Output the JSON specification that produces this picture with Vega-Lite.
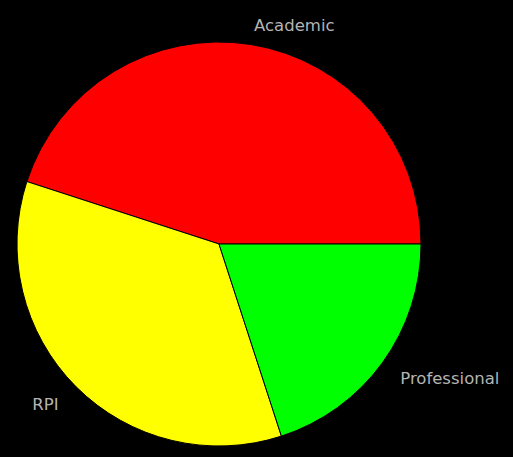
{
  "$schema": "https://vega.github.io/schema/vega-lite/v6.json",
  "width": 404,
  "height": 404,
  "padding": {"left": 17, "top": 42, "right": 92, "bottom": 11},
  "autosize": {"type": "none"},
  "background": "black",
  "config": {"view": {"stroke": null}},
  "data": {"values": [
    {"label": "Academic", "value": 45},
    {"label": "RPI", "value": 35},
    {"label": "Professional", "value": 20}
  ]},
  "encoding": {
    "theta": {"field": "value", "type": "quantitative", "stack": true, "scale": {"range": [1.5708, 7.854]}},
    "order": {"field": "value", "sort": "ascending"}
  },
  "layer": [
    {
      "mark": {"type": "arc", "outerRadius": 202, "stroke": "black", "strokeWidth": 1},
      "encoding": {
        "color": {"field": "label", "type": "nominal", "legend": null,
          "scale": {"domain": ["Academic", "RPI", "Professional"], "range": ["#ff0000", "#ffff00", "#00ff00"]}}
      }
    },
    {
      "mark": {"type": "text", "radius": 224, "dy": 3, "align": "left", "baseline": "middle", "font": "DejaVu Sans", "fontSize": 16.5, "fill": "#b4b4b4"},
      "encoding": {
        "text": {"condition": {"test": "datum.label === 'RPI'", "value": ""}, "field": "label", "type": "nominal"}
      }
    },
    {
      "mark": {"type": "text", "radius": 224, "dy": 3, "dx": -2, "align": "right", "baseline": "middle", "font": "DejaVu Sans", "fontSize": 16.5, "fill": "#b4b4b4"},
      "encoding": {
        "text": {"condition": {"test": "datum.label !== 'RPI'", "value": ""}, "field": "label", "type": "nominal"}
      }
    }
  ]
}
